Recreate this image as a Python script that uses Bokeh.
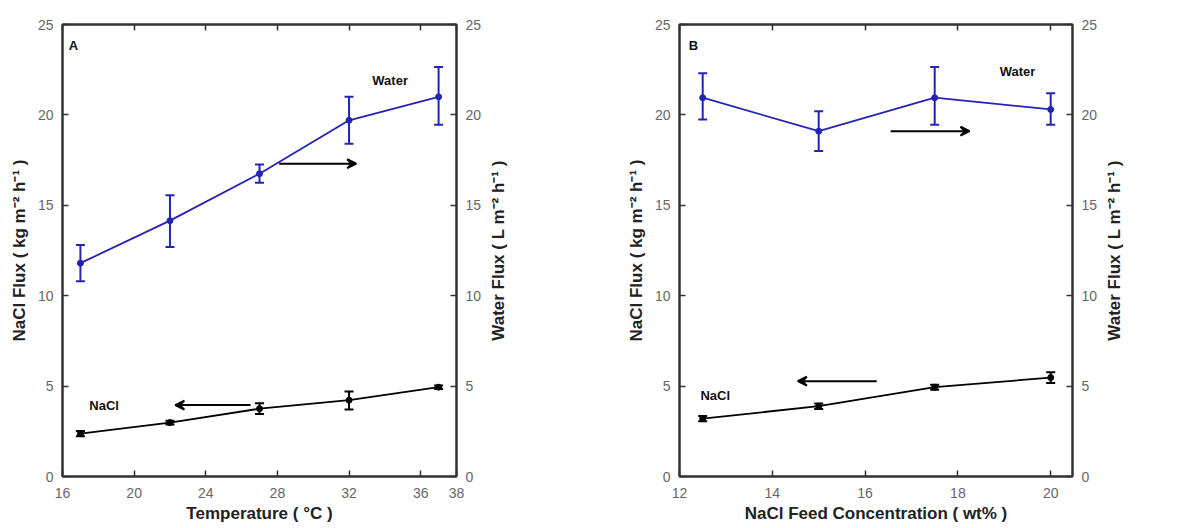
import math
from bokeh.plotting import figure
from bokeh.models import (Range1d, LinearAxis, FixedTicker, Whisker, TeeHead, Arrow,
                          VeeHead, ColumnDataSource, Label)
from bokeh.layouts import row
from bokeh.embed import file_html
from bokeh.resources import INLINE

# ---- Panel A data: temperature series ----
temp = [17, 22, 27, 32, 37]
water_a = [11.8, 14.15, 16.75, 19.7, 21.0]
water_a_lo = [10.8, 12.7, 16.25, 18.4, 19.45]
water_a_hi = [12.8, 15.55, 17.25, 21.0, 22.65]
nacl_a = [2.37, 2.98, 3.75, 4.22, 4.94]
nacl_a_lo = [2.22, 2.88, 3.45, 3.7, 4.84]
nacl_a_hi = [2.52, 3.08, 4.05, 4.7, 5.04]
ticks_a = [16, 20, 24, 28, 32, 36, 38]

# ---- Panel B data: NaCl feed concentration series ----
conc = [12.5, 15, 17.5, 20]
water_b = [20.95, 19.1, 20.95, 20.3]
water_b_lo = [19.75, 18.0, 19.45, 19.45]
water_b_hi = [22.3, 20.2, 22.65, 21.2]
nacl_b = [3.2, 3.89, 4.94, 5.47]
nacl_b_lo = [3.05, 3.74, 4.8, 5.17]
nacl_b_hi = [3.35, 4.04, 5.08, 5.77]
ticks_b = [12, 14, 16, 18, 20]

y_ticks = [0, 5, 10, 15, 20, 25]

LEFT_TITLE = "NaCl Flux ( kg m\u207b\u00b2 h\u207b\u00b9 )"
RIGHT_TITLE = "Water Flux ( L m\u207b\u00b2 h\u207b\u00b9 )"

# annotation arrows (x_start, y_start, x_end, y_end)
arrows_a = [(28.1, 17.3, 32.4, 17.3), (26.5, 3.95, 22.3, 3.95)]
arrows_b = [(16.55, 19.1, 18.25, 19.1), (16.25, 5.27, 14.55, 5.27)]
labels_a = [("A", 16.35, 23.45), ("Water", 33.3, 21.5), ("NaCl", 17.5, 3.5)]
labels_b = [("B", 12.2, 23.45), ("Water", 18.9, 22.0), ("NaCl", 12.45, 4.05)]

BLUE = "#2424b4"
FRAME = "#333333"
TICKLBL = "#666666"
FONT = "Liberation Sans"


def style_axis(ax, label_standoff=9, title_standoff=5):
    ax.axis_line_color = FRAME
    ax.axis_line_width = 2
    ax.major_tick_line_color = FRAME
    ax.major_tick_line_width = 1.5
    ax.major_tick_in = 6
    ax.major_tick_out = 0
    ax.minor_tick_line_color = None
    ax.major_label_text_font = FONT
    ax.major_label_text_font_size = "14px"
    ax.major_label_text_color = TICKLBL
    ax.major_label_standoff = label_standoff
    ax.axis_label_text_font = FONT
    ax.axis_label_text_font_size = "17px"
    ax.axis_label_text_font_style = "bold"
    ax.axis_label_text_color = "#222222"
    ax.axis_label_standoff = title_standoff


def panel(xs, wv, wlo, whi, nv, nlo, nhi, xr, xticks, xlabel, arrows, labels,
          width, bl, br):
    p = figure(width=width, height=528, x_range=Range1d(*xr), y_range=Range1d(0, 25),
               output_backend="svg", toolbar_location=None,
               min_border_left=bl, min_border_right=br, min_border_top=24,
               min_border_bottom=52, x_axis_label=xlabel, y_axis_label=LEFT_TITLE)
    p.grid.visible = False
    p.outline_line_color = FRAME
    p.outline_line_width = 2
    p.xaxis.ticker = FixedTicker(ticks=xticks)
    p.yaxis.ticker = FixedTicker(ticks=y_ticks)
    style_axis(p.xaxis[0], label_standoff=11, title_standoff=3)
    style_axis(p.yaxis[0], label_standoff=9, title_standoff=6)
    p.extra_y_ranges = {"r": Range1d(0, 25)}
    ra = LinearAxis(y_range_name="r", ticker=FixedTicker(ticks=y_ticks))
    style_axis(ra, label_standoff=9)
    p.add_layout(ra, "right")
    ta = LinearAxis(ticker=FixedTicker(ticks=xticks),
                    major_label_overrides={t: "" for t in xticks})
    style_axis(ta, label_standoff=0, title_standoff=0)
    p.add_layout(ta, "above")

    ws = ColumnDataSource(dict(x=xs, y=wv, lo=wlo, hi=whi))
    ns = ColumnDataSource(dict(x=xs, y=nv, lo=nlo, hi=nhi))
    for src, col in ((ws, BLUE), (ns, "black")):
        p.line("x", "y", source=src, line_color=col, line_width=1.8)
        p.add_layout(Whisker(base="x", upper="hi", lower="lo", source=src,
                             line_color=col, line_width=2,
                             upper_head=TeeHead(size=9, line_color=col, line_width=2),
                             lower_head=TeeHead(size=9, line_color=col, line_width=2)))
        p.scatter("x", "y", source=src, size=6, fill_color=col, line_color=col)

    for (x0, y0, x1, y1) in arrows:
        p.add_layout(Arrow(x_start=x0, y_start=y0, x_end=x1, y_end=y1,
                           line_color="black", line_width=2,
                           end=VeeHead(size=9, line_color="black", line_width=2,
                                       fill_color="black")))
    for (t, x, y) in labels:
        p.add_layout(Label(x=x, y=y, text=t, text_font=FONT, text_font_size="13px",
                           text_font_style="bold", text_color="#111111"))
    return p


def title_strip(width, cx):
    """Narrow figure holding the right-hand axis title, reading bottom-to-top."""
    s = figure(width=width, height=528, x_range=Range1d(0, width), y_range=Range1d(0, 528),
               output_backend="svg", toolbar_location=None, min_border=0,
               x_axis_location=None, y_axis_location=None)
    s.grid.visible = False
    s.outline_line_color = None
    s.add_layout(Label(x=cx, y=226, x_units="screen", y_units="screen",
                       text=RIGHT_TITLE, angle=math.pi / 2, text_align="center",
                       text_baseline="middle", text_font=FONT, text_font_size="17px",
                       text_font_style="bold", text_color="#222222"))
    return s


pa = panel(temp, water_a, water_a_lo, water_a_hi, nacl_a, nacl_a_lo, nacl_a_hi,
           (16, 38), ticks_a, "Temperature ( \u00b0C )", arrows_a, labels_a,
           486, 62, 30)
sa = title_strip(112, 12)
pb = panel(conc, water_b, water_b_lo, water_b_hi, nacl_b, nacl_b_lo, nacl_b_hi,
           (12, 20.47), ticks_b, "NaCl Feed Concentration ( wt% )", arrows_b, labels_b,
           504, 81, 30)
sb = title_strip(96, 12)

layout = row(pa, sa, pb, sb, spacing=0)
open("out.html", "w").write(file_html(layout, INLINE))
